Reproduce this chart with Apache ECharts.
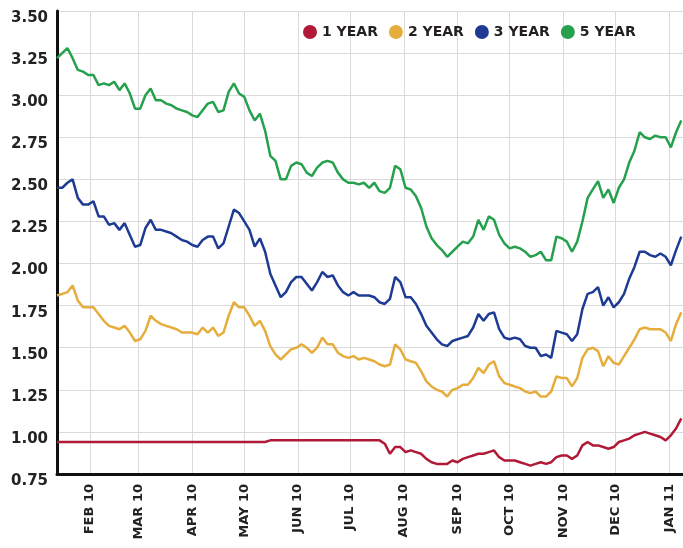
<!DOCTYPE html>
<html><head><meta charset="utf-8">
<script src="https://cdn.jsdelivr.net/npm/echarts@6/dist/echarts.min.js"></script>
<style>html,body{margin:0;padding:0;background:#fff}#c{width:683px;height:548px}</style>
</head><body><div id="c"></div>
<script>
const seriesNames = ['1 YEAR', '2 YEAR', '3 YEAR', '5 YEAR'];
const monthLabels = ['JAN','FEB','MAR','APR','MAY','JUN','JUL','AUG','SEP','OCT','NOV','DEC'];
const dates = [
'2010-01-13','2010-01-16','2010-01-19','2010-01-22','2010-01-25','2010-01-28','2010-01-31',
'2010-02-03','2010-02-06','2010-02-09','2010-02-12','2010-02-15','2010-02-18','2010-02-21','2010-02-24','2010-02-27',
'2010-03-02','2010-03-05','2010-03-08','2010-03-11','2010-03-14','2010-03-17','2010-03-20','2010-03-23','2010-03-26','2010-03-29',
'2010-04-01','2010-04-04','2010-04-07','2010-04-10','2010-04-13','2010-04-16','2010-04-19','2010-04-22','2010-04-25','2010-04-28',
'2010-05-01','2010-05-04','2010-05-07','2010-05-10','2010-05-13','2010-05-16','2010-05-19','2010-05-22','2010-05-25','2010-05-28','2010-05-31',
'2010-06-03','2010-06-06','2010-06-09','2010-06-12','2010-06-15','2010-06-18','2010-06-21','2010-06-24','2010-06-27','2010-06-30',
'2010-07-03','2010-07-06','2010-07-09','2010-07-12','2010-07-15','2010-07-18','2010-07-21','2010-07-24','2010-07-27','2010-07-30',
'2010-08-02','2010-08-05','2010-08-08','2010-08-11','2010-08-14','2010-08-17','2010-08-20','2010-08-23','2010-08-26','2010-08-29',
'2010-09-01','2010-09-04','2010-09-07','2010-09-10','2010-09-13','2010-09-16','2010-09-19','2010-09-22','2010-09-25','2010-09-28',
'2010-10-01','2010-10-04','2010-10-07','2010-10-10','2010-10-13','2010-10-16','2010-10-19','2010-10-22','2010-10-25','2010-10-28','2010-10-31',
'2010-11-03','2010-11-06','2010-11-09','2010-11-12','2010-11-15','2010-11-18','2010-11-21','2010-11-24','2010-11-27','2010-11-30',
'2010-12-03','2010-12-06','2010-12-09','2010-12-12','2010-12-15','2010-12-18','2010-12-21','2010-12-24','2010-12-27','2010-12-30',
'2011-01-02','2011-01-05','2011-01-08'
];
const year1 = [
0.94,0.94,0.94,0.94,0.94,0.94,0.94,0.94,0.94,0.94,
0.94,0.94,0.94,0.94,0.94,0.94,0.94,0.94,0.94,0.94,
0.94,0.94,0.94,0.94,0.94,0.94,0.94,0.94,0.94,0.94,
0.94,0.94,0.94,0.94,0.94,0.94,0.94,0.94,0.94,0.94,
0.94,0.95,0.95,0.95,0.95,0.95,0.95,0.95,0.95,0.95,
0.95,0.95,0.95,0.95,0.95,0.95,0.95,0.95,0.95,0.95,
0.95,0.95,0.95,0.93,0.87,0.91,0.91,0.88,0.89,0.88,
0.87,0.84,0.82,0.81,0.81,0.81,0.83,0.82,0.84,0.85,
0.86,0.87,0.87,0.88,0.89,0.85,0.83,0.83,0.83,0.82,
0.81,0.80,0.81,0.82,0.81,0.82,0.85,0.86,0.86,0.84,
0.86,0.92,0.94,0.92,0.92,0.91,0.90,0.91,0.94,0.95,
0.96,0.98,0.99,1.00,0.99,0.98,0.97,0.95,0.98,1.02,
1.08
];
const year2 = [
1.81,1.82,1.83,1.87,1.78,1.74,1.74,1.74,1.70,1.66,
1.63,1.62,1.61,1.63,1.59,1.54,1.55,1.60,1.69,1.66,
1.64,1.63,1.62,1.61,1.59,1.59,1.59,1.58,1.62,1.59,
1.62,1.57,1.59,1.69,1.77,1.74,1.74,1.69,1.63,1.66,
1.60,1.51,1.46,1.43,1.46,1.49,1.50,1.52,1.50,1.47,
1.50,1.56,1.52,1.52,1.47,1.45,1.44,1.45,1.43,1.44,
1.43,1.42,1.40,1.39,1.40,1.52,1.49,1.43,1.42,1.41,
1.36,1.30,1.27,1.25,1.24,1.21,1.25,1.26,1.28,1.28,
1.32,1.38,1.35,1.40,1.42,1.33,1.29,1.28,1.27,1.26,
1.24,1.23,1.24,1.21,1.21,1.24,1.33,1.32,1.32,1.27,
1.32,1.44,1.49,1.50,1.48,1.39,1.45,1.41,1.40,1.45,
1.50,1.55,1.61,1.62,1.61,1.61,1.61,1.59,1.54,1.64,
1.71
];
const year3 = [
2.45,2.45,2.48,2.50,2.39,2.35,2.35,2.37,2.28,2.28,
2.23,2.24,2.20,2.24,2.17,2.10,2.11,2.21,2.26,2.20,
2.20,2.19,2.18,2.16,2.14,2.13,2.11,2.10,2.14,2.16,
2.16,2.09,2.12,2.22,2.32,2.30,2.25,2.20,2.10,2.15,
2.07,1.94,1.87,1.80,1.83,1.89,1.92,1.92,1.88,1.84,
1.89,1.95,1.92,1.93,1.87,1.83,1.81,1.83,1.81,1.81,
1.81,1.80,1.77,1.76,1.79,1.92,1.89,1.80,1.80,1.76,
1.70,1.63,1.59,1.55,1.52,1.51,1.54,1.55,1.56,1.57,
1.62,1.70,1.66,1.70,1.71,1.61,1.56,1.55,1.56,1.55,
1.51,1.50,1.50,1.45,1.46,1.44,1.60,1.59,1.58,1.54,
1.58,1.73,1.82,1.83,1.86,1.75,1.80,1.74,1.77,1.82,
1.91,1.98,2.07,2.07,2.05,2.04,2.06,2.04,1.99,2.08,
2.16
];
const year5 = [
3.22,3.25,3.28,3.22,3.15,3.14,3.12,3.12,3.06,3.07,
3.06,3.08,3.03,3.07,3.01,2.92,2.92,3.00,3.04,2.97,
2.97,2.95,2.94,2.92,2.91,2.90,2.88,2.87,2.91,2.95,
2.96,2.90,2.91,3.02,3.07,3.01,2.99,2.91,2.85,2.89,
2.79,2.64,2.61,2.50,2.50,2.58,2.60,2.59,2.54,2.52,
2.57,2.60,2.61,2.60,2.54,2.50,2.48,2.48,2.47,2.48,
2.45,2.48,2.43,2.42,2.45,2.58,2.56,2.45,2.44,2.40,
2.33,2.22,2.15,2.11,2.08,2.04,2.07,2.10,2.13,2.12,
2.16,2.26,2.20,2.28,2.26,2.17,2.12,2.09,2.10,2.09,
2.07,2.04,2.05,2.07,2.02,2.02,2.16,2.15,2.13,2.07,
2.13,2.25,2.39,2.44,2.49,2.39,2.44,2.36,2.45,2.50,
2.60,2.67,2.78,2.75,2.74,2.76,2.75,2.75,2.69,2.78,
2.85
];
const colors = ['#b01a36', '#e6ad3c', '#1e3b94', '#25a04c'];
const allValues = [year1, year2, year3, year5];

const chart = echarts.init(document.getElementById('c'), null, {renderer: 'canvas'});
const font = 'DejaVu Sans';
chart.setOption({
  animation: false,
  backgroundColor: '#ffffff',
  color: colors,
  grid: {left: 57, right: 0, top: 11, bottom: 74, containLabel: false},
  legend: {
    data: seriesNames, left: 298, top: 20, icon: 'circle',
    itemWidth: 14, itemHeight: 14, itemGap: 11,
    textStyle: {fontFamily: font, fontWeight: 'bold', fontSize: 14, color: '#231f20'}
  },
  xAxis: {
    type: 'time', min: '2010-01-13', max: '2011-01-09',
    splitNumber: 12, minInterval: 28 * 86400000, maxInterval: 31 * 86400000,
    axisLine: {show: true, lineStyle: {color: '#111', width: 3}},
    axisTick: {show: false},
    splitLine: {show: true, lineStyle: {color: '#dadada', width: 1}},
    axisLabel: {
      rotate: 90, margin: 10, fontFamily: font, fontWeight: 'bold', fontSize: 13, color: '#222',
      showMinLabel: false, showMaxLabel: false,
      formatter: function (v) {
        const d = new Date(v);
        return monthLabels[d.getMonth()] + ' ' + String(d.getFullYear()).slice(2);
      }
    }
  },
  yAxis: {
    type: 'value', min: 0.75, max: 3.5, interval: 0.25,
    axisLine: {show: true, lineStyle: {color: '#111', width: 3}},
    axisTick: {show: false},
    splitLine: {show: true, lineStyle: {color: '#dadada', width: 1}},
    axisLabel: {
      formatter: v => v.toFixed(2), fontFamily: font, fontWeight: 'bold', fontSize: 15,
      color: '#222', margin: 9, verticalAlign: 'top', lineHeight: 14
    }
  },
  series: seriesNames.map((name, i) => ({
    name: name, type: 'line', showSymbol: false, symbol: 'none',
    lineStyle: {width: 2.5, color: colors[i]},
    itemStyle: {color: colors[i]},
    data: dates.map((d, j) => [d, allValues[i][j]])
  }))
});
</script>
</body></html>
